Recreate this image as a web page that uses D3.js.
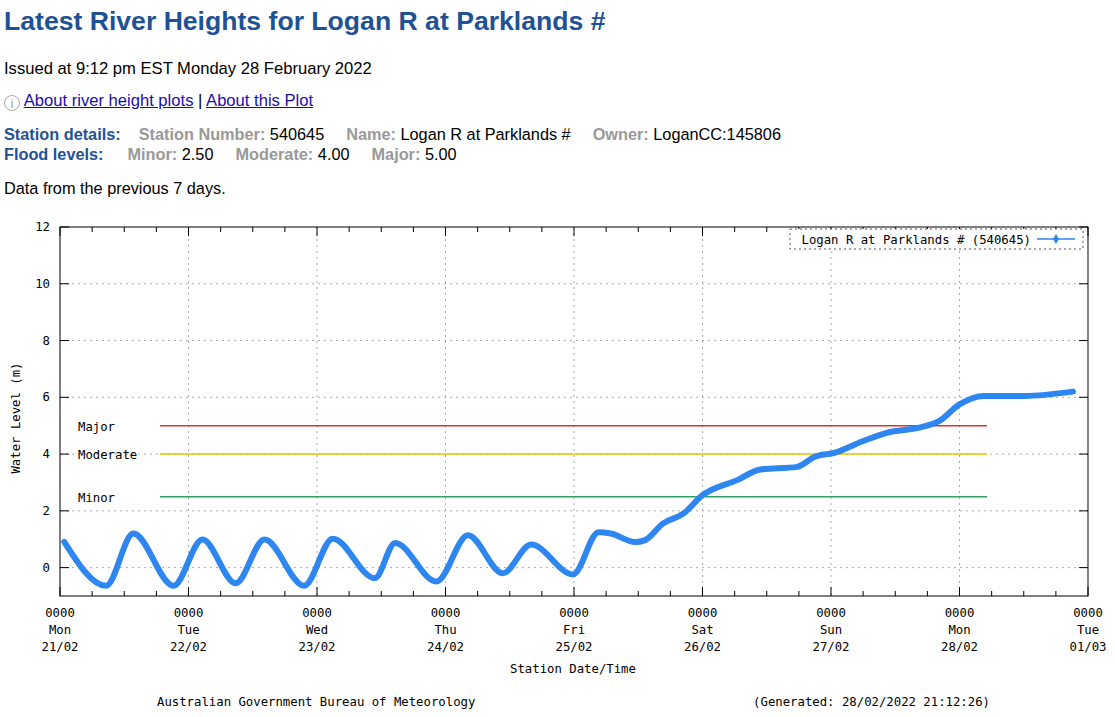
<!DOCTYPE html><html><head><meta charset="utf-8">
<script src="https://cdn.jsdelivr.net/npm/d3@7"></script>
<style>
body{margin:0;font-family:"Liberation Sans",Arial,sans-serif;background:#fff}
.t{position:absolute;white-space:nowrap}
</style></head><body>
<div class="t" style="left:4px;top:6px;font-size:26.6px;font-weight:bold;color:#1f5294">Latest River Heights for Logan R at Parklands #</div>
<div class="t" style="left:4px;top:59px;font-size:16.6px">Issued at 9:12 pm EST Monday 28 February 2022</div>
<div class="t" style="left:4px;top:91px;font-size:16.6px"><span style="display:inline-block;width:16px;height:16px;border:1px solid #aaa;border-radius:50%;font-size:12px;text-align:center;line-height:16px;color:#999;vertical-align:-2px;box-sizing:border-box">i</span> <a href="#" style="color:#1a0dab">About river height plots</a> | <a href="#" style="color:#1a0dab">About this Plot</a></div>
<div class="t" style="left:4px;top:125px;font-size:16.3px"><b style="color:#1f5294">Station details:</b><span style="display:inline-block;width:18px"></span><b style="color:#999">Station Number:</b> 540645<span style="display:inline-block;width:22px"></span><b style="color:#999">Name:</b> Logan R at Parklands #<span style="display:inline-block;width:22px"></span><b style="color:#999">Owner:</b> LoganCC:145806</div>
<div class="t" style="left:4px;top:145px;font-size:16.3px"><b style="color:#1f5294">Flood levels:</b><span style="display:inline-block;width:24px"></span><b style="color:#999">Minor:</b> 2.50<span style="display:inline-block;width:22px"></span><b style="color:#999">Moderate:</b> 4.00<span style="display:inline-block;width:22px"></span><b style="color:#999">Major:</b> 5.00</div>
<div class="t" style="left:4px;top:179px;font-size:16.3px">Data from the previous 7 days.</div>
<svg id="c" width="1115" height="717" style="position:absolute;left:0;top:0;pointer-events:none"></svg>
<script>
const hours=[0.8,8.6,13.7,21.2,26.6,32.8,38.2,45.6,50.95,58.8,62.6,70.3,76.2,82.7,88,95.8,100.6,102.9,107.4,109.3,112.6,116.4,120,126.7,130.6,137.7,140.9,144.8,149.9,154.4,160.9,164.1,168,172.5,180.2,189.2];
const levels=[0.91,-0.64,1.2,-0.64,0.99,-0.55,0.99,-0.64,1.02,-0.37,0.87,-0.49,1.14,-0.2,0.81,-0.24,1.25,1.2,0.9,0.97,1.55,1.9,2.55,3.1,3.45,3.55,3.9,4.05,4.45,4.75,4.95,5.15,5.75,6.05,6.05,6.2];
const dayLabels=["Mon","Tue","Wed","Thu","Fri","Sat","Sun","Mon","Tue"];
const dateLabels=["21/02","22/02","23/02","24/02","25/02","26/02","27/02","28/02","01/03"];
const yTicks=[0,2,4,6,8,10,12];
const floodNames=["Major","Moderate","Minor"],floodLevels=[5,4,2.5],floodColors=["#e03030","#f0c000","#30a060"];
const svg=d3.select("#c"),mono="'DejaVu Sans Mono',monospace";
const x=d3.scaleLinear().domain([0,192]).range([60,1088]);
const y=d3.scaleLinear().domain([-1,12]).range([596,227]);
const g=svg.append("g").attr("font-family",mono).attr("font-size",12.3);
dayLabels.forEach((d,i)=>{if(i>0&&i<8)g.append("line").attr("x1",x(i*24)).attr("x2",x(i*24)).attr("y1",227).attr("y2",596).attr("stroke","#aaa").attr("stroke-dasharray","2,4");});
yTicks.forEach(v=>{if(v<12)g.append("line").attr("x1",60).attr("x2",1088).attr("y1",y(v)).attr("y2",y(v)).attr("stroke","#aaa").attr("stroke-dasharray","2,4");});
for(let h=0;h<=192;h+=6){const L=h%24==0?9:5;g.append("line").attr("x1",x(h)).attr("x2",x(h)).attr("y1",596).attr("y2",596-L).attr("stroke","#000");g.append("line").attr("x1",x(h)).attr("x2",x(h)).attr("y1",227).attr("y2",227+L).attr("stroke","#000");}
yTicks.forEach(v=>{[[60,69],[1088,1079]].forEach(p=>g.append("line").attr("x1",p[0]).attr("x2",p[1]).attr("y1",y(v)).attr("y2",y(v)).attr("stroke","#000"));
 g.append("text").attr("x",50).attr("y",y(v)+4).attr("text-anchor","end").text(v);});
g.append("rect").attr("x",60).attr("y",227).attr("width",1028).attr("height",369).attr("fill","none").attr("stroke","#000");
dayLabels.forEach((d,i)=>{const t=g.append("text").attr("text-anchor","middle").attr("x",x(i*24));
 t.append("tspan").attr("x",x(i*24)).attr("y",617).text("0000");t.append("tspan").attr("x",x(i*24)).attr("y",634).text(d);t.append("tspan").attr("x",x(i*24)).attr("y",651).text(dateLabels[i]);});
g.append("text").attr("x",573).attr("y",673).attr("text-anchor","middle").text("Station Date/Time");
g.append("text").attr("transform","translate(20,418) rotate(-90)").attr("text-anchor","middle").text("Water Level (m)");
floodNames.forEach((n,i)=>{g.append("line").attr("x1",160).attr("x2",987).attr("y1",y(floodLevels[i])).attr("y2",y(floodLevels[i])).attr("stroke",floodColors[i]).attr("stroke-width",1.5);
 g.append("text").attr("x",78).attr("y",y(floodLevels[i])+5).text(n);});
const pts=hours.map((h,i)=>[x(h),y(levels[i])]);
g.append("path").attr("d",d3.line().curve(d3.curveMonotoneX)(pts)).attr("fill","none").attr("stroke","#2e86f0").attr("stroke-width",6).attr("stroke-linejoin","round").attr("stroke-linecap","round");
g.append("rect").attr("x",790).attr("y",229).attr("width",293).attr("height",20).attr("fill","#fff").attr("stroke","#555").attr("stroke-dasharray","2,3");
g.append("text").attr("x",1031).attr("y",244).attr("text-anchor","end").text("Logan R at Parklands # (540645)");
g.append("line").attr("x1",1037).attr("x2",1075).attr("y1",239).attr("y2",239).attr("stroke","#2e86f0").attr("stroke-width",1.5);
g.append("path").attr("d",d3.symbol(d3.symbolDiamond,30)()).attr("transform","translate(1056,239)").attr("fill","#2e86f0");
g.append("text").attr("x",157).attr("y",706).text("Australian Government Bureau of Meteorology");
g.append("text").attr("x",990).attr("y",706).attr("text-anchor","end").text("(Generated: 28/02/2022 21:12:26)");
</script></body></html>
